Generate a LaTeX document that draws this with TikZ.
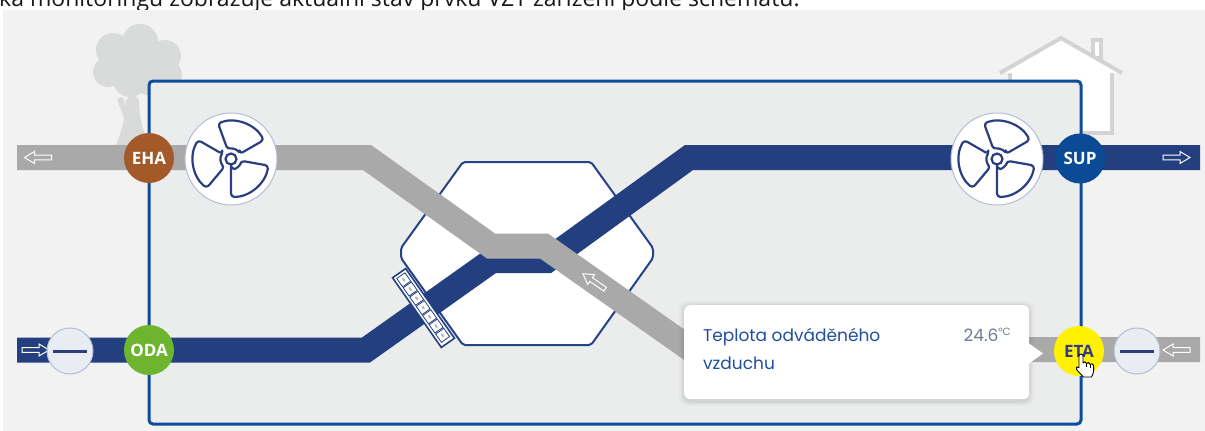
\documentclass[tikz,border=0pt]{standalone}
\usepackage{fontspec}
\setmainfont{Open Sans}
\newfontfamily\docfont{Open Sans}
\newfontfamily\tipfont{Poppins}
\newfontfamily\badgefont{Open Sans}
\usetikzlibrary{calc}

\definecolor{pagebg}{HTML}{F2F2F2}
\definecolor{unitbg}{HTML}{EBECEC}
\definecolor{unitline}{HTML}{0F4C9B}
\definecolor{ductblue}{HTML}{243F80}
\definecolor{ductgray}{HTML}{A9A9A9}
\definecolor{hexline}{HTML}{264388}
\definecolor{ehacol}{HTML}{A35A28}
\definecolor{odacol}{HTML}{6DB52E}
\definecolor{supcol}{HTML}{0B4A94}
\definecolor{etacol}{HTML}{FFF200}
\definecolor{etatext}{HTML}{343A86}
\definecolor{fanline}{HTML}{2B3F80}
\definecolor{ringline}{HTML}{B3BDD3}
\definecolor{filterfill}{HTML}{E9ECF2}
\definecolor{tiptext}{HTML}{1F4F9D}
\definecolor{tipvalue}{HTML}{6E7C95}
\definecolor{scenery}{HTML}{D9DADA}
\definecolor{houseline}{HTML}{D3D3D3}
\definecolor{markgray}{HTML}{B5B5B5}

\tikzset{
  duct/.style={line width=25pt, line cap=butt, line join=miter},
  badge/.style={circle, minimum size=50pt, inner sep=0pt, text=white,
    font=\badgefont\bfseries\fontsize{17}{17}\selectfont},
  fanring/.style={circle, minimum size=92pt, inner sep=0pt, fill=white, draw=ringline, line width=1pt},
  filterring/.style={circle, minimum size=46pt, inner sep=0pt, fill=filterfill, draw=ringline, line width=1pt},
  tiplabel/.style={inner sep=0pt, text=tiptext, font=\tipfont\fontsize{17}{17}\selectfont},
  flowarrow/.pic={
    \draw[white, line width=1pt, line join=miter]
      (-13.5,-2.3) -- (3.5,-2.3) -- (3.5,-6) -- (13.5,0) -- (3.5,6) -- (3.5,2.3) -- (-13.5,2.3) -- cycle;
  },
  fanicon/.pic={
    \foreach \a in {70,190,310}{
      \draw[fanline, line width=2.2pt, line join=round, rounded corners=3.5pt]
        ({-\a+40}:10) -- ({-\a+40}:38)
        arc[start angle={-\a+40}, end angle={-\a-40}, radius=38]
        -- ({-\a-40}:10)
        arc[start angle={-\a-40}, end angle={-\a+40}, radius=10] -- cycle;
    }
    \draw[fanline, line width=2.2pt] (0,0) circle (5.5);
  },
  handcursor/.pic={
    \draw[black, fill=white, line width=0.9pt, line join=round]
      (-2,2) .. controls (-2,-0.6) and (2,-0.6) .. (2,2) -- (2,9)
      .. controls (2,7.3) and (5.6,7.3) .. (5.6,9.5)
      .. controls (5.6,8) and (9.2,8) .. (9.2,10.5)
      .. controls (9.2,9.2) and (12.6,9.2) .. (12.6,11.5)
      -- (12.6,17) .. controls (12.6,20) and (11,21) .. (10.5,23)
      -- (2.5,23) -- (-4.5,15.5)
      .. controls (-6,13.5) and (-3.5,11.5) .. (-2,13.5) -- cycle;
    \draw[black, line width=0.7pt] (5.6,9.5) -- (5.6,13) (9.2,10.5) -- (9.2,13.5);
  }
}

\begin{document}
\begin{tikzpicture}[x=1pt, y=-1pt]
\useasboundingbox (0,0) rectangle (1205,431);
\clip (0,0) rectangle (1205,431);

% page and panel background
\fill[white] (0,0) rectangle (1205,431);
\node[anchor=base west, inner sep=0pt, font=\docfont\fontsize{23}{23}\selectfont, text=black!90]
  (doctext) at (-1,6) {ka monitoringu zobrazuje aktuální stav prvků VZT zařízení podle schématu.};
\fill[pagebg] (3,10) rectangle (1205,431);

% tree
\begin{scope}[fill=scenery]
  \fill (116,145) .. controls (122,130) and (126,115) .. (126,100) -- (133,94) -- (139,100)
        .. controls (139,115) and (142,130) .. (149,145) -- cycle;
  \fill (124,118) -- (117,99) -- (122,97) -- (128,110) -- cycle;
  \fill (138,62) circle (22);
  \fill (113,50) circle (17);
  \fill (140,42) circle (18);
  \fill (165,56) circle (16);
  \fill (108,72) circle (15);
  \fill (167,75) circle (15);
  \fill (130,80) circle (17);
  \fill (151,81) circle (15);
\end{scope}

% house
\draw[houseline, line width=4pt, fill=white, line join=miter]
  (1010,67) -- (1010,133) -- (1112,133) -- (1112,67);
\draw[houseline, line width=4pt, fill=white] (1093,40) rectangle (1101,58);
\draw[houseline, line width=4pt, fill=white, line join=miter]
  (1000,73) -- (1061,38) -- (1122,73);

% unit casing
\draw[unitline, fill=unitbg, line width=3pt, rounded corners=4pt] (149,81) rectangle (1081,424);

% heat exchanger
\draw[hexline, line width=2pt, fill=white, rounded corners=2pt]
  (463,162) -- (591,162) -- (653,248) -- (653,258) -- (591,345) -- (463,345) -- (401,258) -- (401,248) -- cycle;

% supply air duct (blue) and extract air duct (grey)
\coordinate (b0) at (17,350);   \coordinate (b1) at (366,350);
\coordinate (b2) at (492,260.5); \coordinate (b3) at (547,260.5);
\coordinate (b4) at (689,157.5); \coordinate (b5) at (1200,157.5);
\draw[duct, ductblue] (b0) -- (b1) -- (b2) -- (b3) -- (b4) -- (b5);

\coordinate (g0) at (17,157.5);  \coordinate (g1) at (367,157.5);
\coordinate (g2) at (491,246);   \coordinate (g3) at (544,246);
\coordinate (g4) at (691,349.5); \coordinate (g5) at (1200,349.5);
\draw[duct, ductgray] (g0) -- (g1) -- (g2) -- (g3) -- (g4) -- (g5);

% filter strip across the supply duct
\begin{scope}[shift={(423.5,308)}, rotate=-55]
  \draw[ductblue, line width=1.6pt, fill=white] (-42.5,-8) rectangle (42.5,8);
  \foreach \i in {0,...,6}{
    \draw[ductblue, line width=0.8pt] ({-39.5+\i*11.3},-5) rectangle ++(10.1,10);
    \fill[markgray] ({-34.45+\i*11.3},0) ellipse (2.2 and 1.1);
  }
\end{scope}

% flow direction arrows
\pic[rotate=180] at (38,157.5) {flowarrow};
\pic at (1176.5,157.5) {flowarrow};
\pic at (35.5,350) {flowarrow};
\pic[rotate=180] at (1176.5,350) {flowarrow};
\pic[rotate=145] at (594,281.5) {flowarrow};

% fans
\node[fanring] (fanL) at (231,159) {};
\pic at (fanL.center) {fanicon};
\node[fanring] (fanR) at (997,159) {};
\pic at (fanR.center) {fanicon};

% filters
\node[filterring] (filL) at (70,351) {};
\draw[fanline, line width=3pt]
  ([xshift=-17pt]filL.center) -- ([xshift=17pt]filL.center);
\node[filterring] (filR) at (1137,351) {};
\draw[fanline, line width=3pt]
  ([xshift=-17pt]filR.center) -- ([xshift=17pt]filR.center);

% port badges
\node[badge, fill=ehacol] (eha) at (149,158) {EHA};
\node[badge, fill=supcol] (sup) at (1080,158.5) {SUP};
\node[badge, fill=odacol] (oda) at (149,350) {ODA};
\node[badge, fill=etacol, text=etatext] (eta) at (1079,351) {ETA};

% tooltip
\foreach \s/\o in {5/0.025,3/0.035,1.5/0.045}{
  \fill[black, opacity=\o, rounded corners=8pt] (684-\s,306-\s) rectangle (1029+\s,401+\s);
}
\node[fill=white, rounded corners=6pt, anchor=north west, minimum width=345pt, minimum height=94pt,
      inner sep=0pt] (tip) at (684,305) {};
\fill[white] (1027,342) -- (1043,353.5) -- (1027,365) -- cycle;
\node[tiplabel, anchor=base west] (tipname1) at (703,341) {Teplota odváděného};
\node[tiplabel, anchor=base west] (tipname2) at (703,369) {vzduchu};
\node[anchor=base east, inner sep=0pt, text=tipvalue, font=\tipfont\fontsize{17}{17}\selectfont]
  (tipvalue) at (1011,341) {24.6\raisebox{5.5pt}{\fontsize{10.5}{10.5}\selectfont °C}};

% pointer
\pic at (1081,354) {handcursor};
\end{tikzpicture}
\end{document}
